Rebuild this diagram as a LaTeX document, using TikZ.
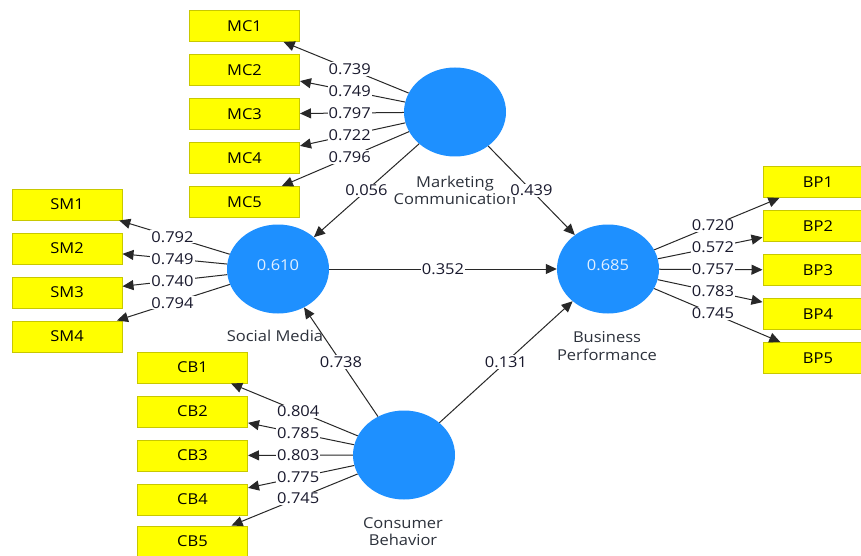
\documentclass[tikz,border=0pt]{standalone}
\usepackage{fontspec}
\setmainfont{Open Sans}[FakeStretch=1.1]
\usetikzlibrary{arrows.meta,shapes.geometric,calc}
\definecolor{boxfill}{RGB}{255,255,0}
\definecolor{boxline}{RGB}{200,200,0}
\definecolor{lvfill}{RGB}{30,144,255}
\definecolor{lvtext}{RGB}{225,240,255}
\definecolor{edgecol}{RGB}{40,40,40}
\definecolor{txtcol}{RGB}{25,25,45}
\definecolor{lvname}{RGB}{45,50,60}
\begin{document}
\begin{tikzpicture}[x=1pt,y=-1pt,
  ind/.style={rectangle,draw=boxline,line width=1pt,fill=boxfill,minimum width=110pt,minimum height=31pt,inner sep=0pt,font=\fontsize{15}{17}\selectfont,text=black},
  lv/.style={ellipse,fill=lvfill,minimum width=102pt,minimum height=89pt,inner sep=0pt,font=\fontsize{15}{17}\selectfont,text=lvtext},
  lvlab/.style={align=center,font=\fontsize{15}{17.5}\selectfont,text=lvname,inner sep=0pt},
  arr/.style={draw=edgecol,line width=1pt,-{Triangle[length=11pt,width=10pt]}},
  lbl/.style={fill=white,inner sep=1pt,font=\fontsize{15}{17}\selectfont,text=txtcol}]
\clip (0,0) rectangle (861,556);
\fill[white] (0,0) rectangle (861,556);
% latent variables
\node[lv] (mc) at (455,112) {};
\node[lv] (sm) at (278,269) {};
\node[lv] (bp) at (608,269) {};
\node[lv] (cb) at (404,455) {};
\node[text=lvtext,font=\fontsize{15}{17}\selectfont,inner sep=0pt] (smv) at (278,265) {0.610};
\node[text=lvtext,font=\fontsize{15}{17}\selectfont,inner sep=0pt] (bpv) at (608,265) {0.685};
\node[lvlab] (mcl) at (455,190.5) {Marketing\\Communication};
\node[lvlab] (sml) at (275,336) {Social Media};
\node[lvlab] (cbl) at (403,531.5) {Consumer\\Behavior};
\node[lvlab] (bpl) at (607,346) {Business\\Performance};
% indicators
\foreach \i/\y in {1/26,2/70,3/114,4/158,5/202} \node[ind] (mc\i) at (244.5,\y) {MC\i};
\foreach \i/\y in {1/204.5,2/248.5,3/292.5,4/336.5} \node[ind] (sm\i) at (67,\y) {SM\i};
\foreach \i/\y in {1/367.5,2/411.5,3/455.5,4/499.5,5/541.5} \node[ind] (cb\i) at (192.5,\y) {CB\i};
\foreach \i/\y in {1/182,2/226,3/270,4/314,5/358} \node[ind] (bp\i) at (818,\y) {BP\i};
% edges
\foreach \i in {1,...,5} \draw[arr] (mc) -- (mc\i);
\foreach \i in {1,...,4} \draw[arr] (sm) -- (sm\i);
\foreach \i in {1,...,5} \draw[arr] (cb) -- (cb\i);
\foreach \i in {1,...,5} \draw[arr] (bp) -- (bp\i);
\draw[arr] (mc) -- (sm);
\draw[arr] (mc) -- (bp);
\draw[arr] (sm) -- (bp);
\draw[arr] (cb) -- (sm);
\draw[arr] (cb) -- (bp);
% labels
\foreach \i/\v in {1/0.739,2/0.749,3/0.797,4/0.722,5/0.796} \node[lbl] at ($(mc)!0.5!(mc\i)$) {\v};
\foreach \i/\v in {1/0.792,2/0.749,3/0.740,4/0.794} \node[lbl] at ($(sm)!0.5!(sm\i)$) {\v};
\foreach \i/\v in {1/0.804,2/0.785,3/0.803,4/0.775,5/0.745} \node[lbl] at ($(cb)!0.5!(cb\i)$) {\v};
\foreach \i/\v in {1/0.720,2/0.572,3/0.757,4/0.783,5/0.745} \node[lbl] at ($(bp)!0.5!(bp\i)$) {\v};
\node[lbl] at ($(mc)!0.5!(sm)$) {0.056};
\node[lbl] at ($(mc)!0.5!(bp)$) {0.439};
\node[lbl] at ($(sm)!0.5!(bp)$) {0.352};
\node[lbl] at ($(cb)!0.5!(sm)$) {0.738};
\node[lbl] at ($(cb)!0.5!(bp)$) {0.131};
\end{tikzpicture}
\end{document}
